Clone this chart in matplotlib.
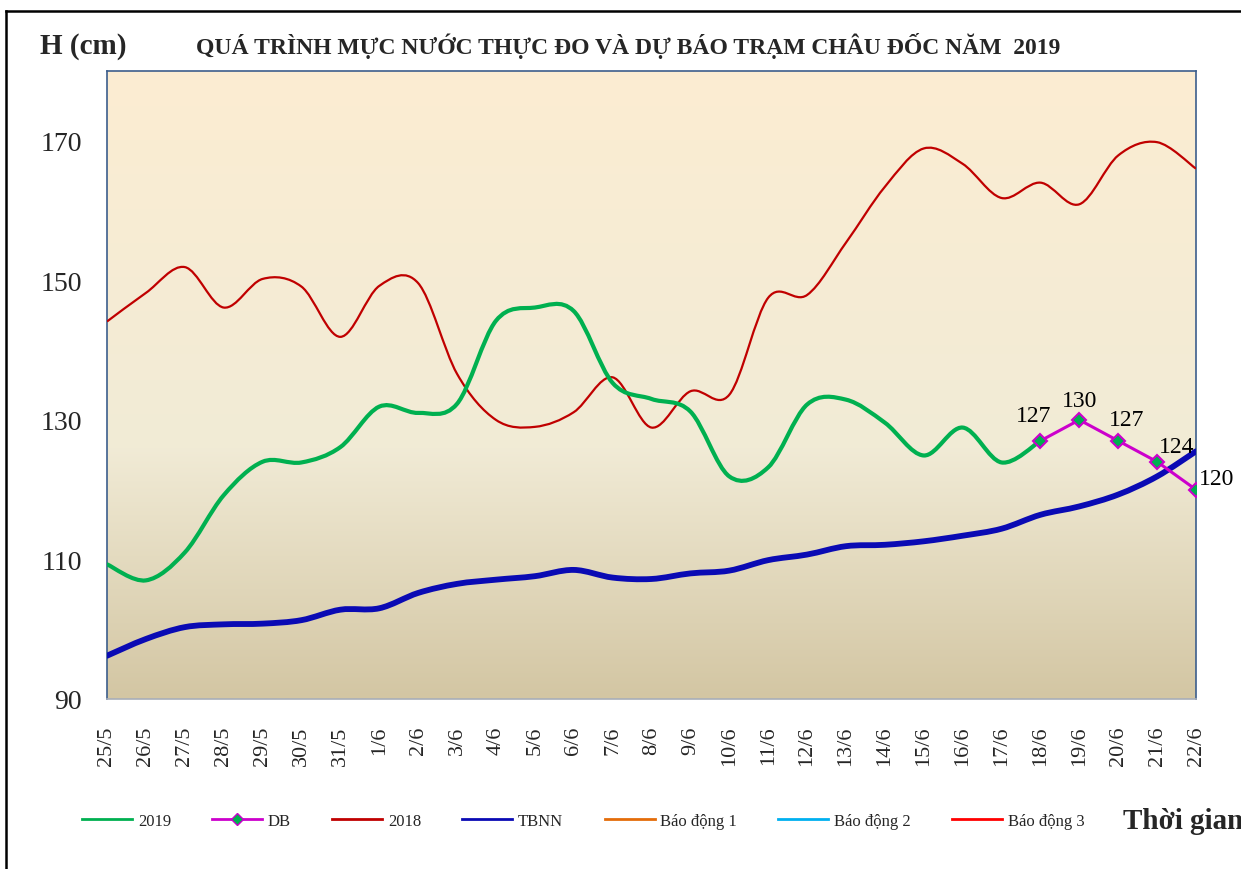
import numpy as np
import matplotlib
matplotlib.use("Agg")
import matplotlib.pyplot as plt
from matplotlib.colors import LinearSegmentedColormap
from matplotlib.lines import Line2D
from matplotlib.path import Path
from matplotlib.patches import PathPatch

plt.rcParams["font.family"] = ["Liberation Serif", "DejaVu Serif"]

# ---- data (cm) ----
dates = ["25/5", "26/5", "27/5", "28/5", "29/5", "30/5", "31/5",
         "1/6", "2/6", "3/6", "4/6", "5/6", "6/6", "7/6", "8/6", "9/6",
         "10/6", "11/6", "12/6", "13/6", "14/6", "15/6", "16/6", "17/6",
         "18/6", "19/6", "20/6", "21/6", "22/6"]

h2019 = [109.3, 107.0, 111.0, 119.2, 124.0, 123.9, 126.1, 131.9, 131.0,
         132.3, 144.2, 146.1, 145.6, 135.3, 133.0, 131.2, 121.9, 123.2,
         132.2, 132.9, 129.6, 124.9, 128.9, 123.9, 127.0]
h2018 = [144.1, 148.2, 151.9, 146.1, 150.2, 149.1, 141.9, 149.2, 149.6,
         136.6, 130.0, 129.0, 131.1, 136.1, 128.9, 134.1, 133.6, 147.5,
         147.9, 155.4, 163.4, 168.9, 166.7, 161.8, 164.0, 160.9, 167.9,
         169.8, 166.0]
tbnn = [96.2, 98.6, 100.3, 100.7, 100.8, 101.3, 102.8, 103.0, 105.2,
        106.5, 107.1, 107.6, 108.5, 107.4, 107.2, 108.0, 108.4, 109.9,
        110.7, 111.9, 112.1, 112.6, 113.4, 114.4, 116.4, 117.6, 119.3,
        121.9, 125.5]
db_dates = ["18/6", "19/6", "20/6", "21/6", "22/6"]
db = [127, 130, 127, 124, 120]
alarms = [350, 400, 450]          # Báo động 1/2/3, far above the view
alarm_labels = ["Báo động 1", "Báo động 2", "Báo động 3"]

C2019, CDB, C2018, CTB = "#00B050", "#CC00CC", "#C00000", "#0A0AB4"
CALARM = ["#E46C0A", "#00B0F0", "#FF0000"]


def smooth_path(xs, ys):
    """Excel-style smoothed line: Catmull-Rom segments as cubic beziers."""
    pts = np.column_stack([xs, ys]).astype(float)
    n = len(pts)
    verts, codes = [pts[0]], [Path.MOVETO]
    for i in range(n - 1):
        p0, p1 = pts[max(i - 1, 0)], pts[i]
        p2, p3 = pts[i + 1], pts[min(i + 2, n - 1)]
        verts += [p1 + (p2 - p0) / 6, p2 - (p3 - p1) / 6, p2]
        codes += [Path.CURVE4] * 3
    return Path(verts, codes)


fig = plt.figure(figsize=(12.41, 8.70), dpi=100)
ax = fig.add_axes([107 / 1241, 170 / 870, 1089 / 1241, 628 / 870])

# parchment style gradient background
cmap = LinearSegmentedColormap.from_list(
    "bg", [(0.0, "#D3C6A3"), (0.40, "#F1EBD6"), (1.0, "#FCEDD2")])
grad = np.linspace(0, 1, 256).reshape(-1, 1)
ax.imshow(grad, extent=[0, 1, 0, 1], transform=ax.transAxes, origin="lower",
          aspect="auto", cmap=cmap, zorder=0)

x = np.arange(len(dates))
x19 = x[:len(h2019)]
xdb = np.array([dates.index(d) for d in db_dates])

ax.add_patch(PathPatch(smooth_path(x, h2018), fill=False, ec=C2018, lw=1.6, zorder=3))
ax.add_patch(PathPatch(smooth_path(x, tbnn), fill=False, ec=CTB, lw=4.2,
                       capstyle="round", zorder=3))
ax.add_patch(PathPatch(smooth_path(x19, h2019), fill=False, ec=C2019, lw=3.0,
                       capstyle="round", zorder=4))
for lvl, c in zip(alarms, CALARM):
    ax.axhline(lvl, color=c, lw=1.5)
ax.plot(xdb, db, color=CDB, lw=2.2, marker="D", ms=7, mfc=C2019, mec=CDB,
        mew=1.5, zorder=5)

offsets = [(-5, 18), (0, 14), (6, 15), (14, 11), (15, 8)]
for xi, v, off in zip(xdb, db, offsets):
    ax.annotate(str(v), (xi, v), xytext=off, textcoords="offset points",
                ha="center", va="center", fontsize=17, color="black", zorder=6)

ax.set_xlim(0, len(dates) - 1)
ax.set_ylim(90, 180)
ax.set_yticks([90, 110, 130, 150, 170])
ax.set_xticks(x)
ax.set_xticklabels(dates, rotation=90, va="top")
ax.tick_params(axis="x", length=0, pad=19, labelsize=16, labelcolor="#262626")
ax.tick_params(axis="y", length=0, pad=18, labelsize=20, labelcolor="#262626")
for side in ("left", "top", "right"):
    ax.spines[side].set_color("#3C5E8C")
    ax.spines[side].set_linewidth(1.2)
ax.spines["bottom"].set_color("#A8AEB8")
ax.spines["bottom"].set_linewidth(1.2)

fig.text(40 / 1241, 1 - 46 / 870, "H (cm)", fontsize=21, fontweight="bold",
         color="#262626", ha="left", va="center")
fig.text(628 / 1241, 1 - 46 / 870,
         "QUÁ TRÌNH MỰC NƯỚC THỰC ĐO VÀ DỰ BÁO TRẠM CHÂU ĐỐC NĂM  2019",
         fontsize=17, fontweight="bold", color="#262626", ha="center", va="center")
fig.text(1123 / 1241, 1 - 822 / 870, "Thời gian", fontsize=21,
         fontweight="bold", color="#262626", ha="left", va="center")

handles = [Line2D([], [], color=C2019, lw=2),
           Line2D([], [], color=CDB, lw=2, marker="D", ms=6, mfc=C2019, mec=CDB),
           Line2D([], [], color=C2018, lw=2),
           Line2D([], [], color=CTB, lw=2)]
handles += [Line2D([], [], color=c, lw=2) for c in CALARM]
labels = ["2019", "DB", "2018", "TBNN"] + alarm_labels
leg = fig.legend(handles, labels, loc="center left",
                 bbox_to_anchor=(82 / 1241, 1 - 822 / 870), ncol=7,
                 frameon=False, fontsize=12, handlelength=3.0,
                 handletextpad=0.35, columnspacing=2.47, borderaxespad=0,
                 borderpad=0)
for t in leg.get_texts():
    t.set_color("#262626")

# outer frame (left and top edges visible in the original screenshot)
fig.add_artist(Line2D([6 / 1241, 6 / 1241], [0, 1 - 12 / 870],
                      transform=fig.transFigure, color="black", lw=1.8))
fig.add_artist(Line2D([6 / 1241, 1], [1 - 12 / 870, 1 - 12 / 870],
                      transform=fig.transFigure, color="black", lw=1.8))

fig.savefig("out.png", dpi=100)
